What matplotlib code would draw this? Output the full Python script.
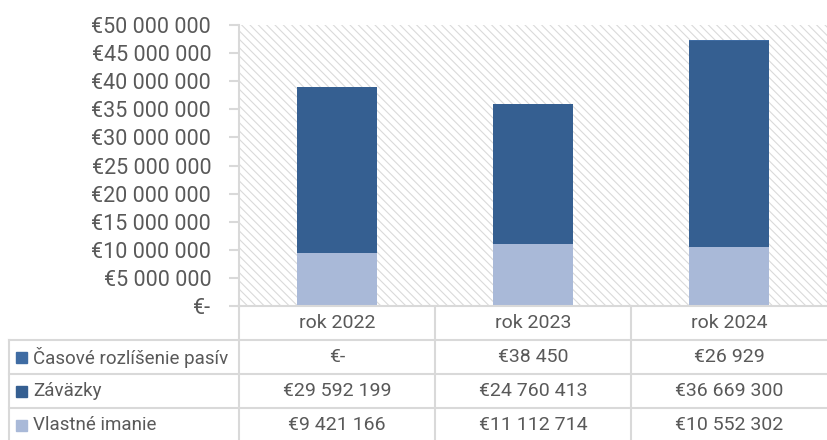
import matplotlib
matplotlib.use('Agg')
import matplotlib.pyplot as plt
from matplotlib.patches import Rectangle
from matplotlib.lines import Line2D

# data
years = ['rok 2022', 'rok 2023', 'rok 2024']
vlastne_imanie = [9421166, 11112714, 10552302]
zavazky = [29592199, 24760413, 36669300]
casove_rozlisenie = [0, 38450, 26929]

series_names = ['Časové rozlíšenie pasív', 'Záväzky', 'Vlastné imanie']
series_colors = ['#3F6CA3', '#355F91', '#A9B9D8']

yticks = list(range(0, 50000001, 5000000))

plt.rcParams['font.family'] = ['Roboto', 'DejaVu Sans']
plt.rcParams['hatch.linewidth'] = 0.8
txt_color = '#595959'
grid_color = '#D9D9D9'


def euro(v):
    if v == 0:
        return '€-'
    return '€' + f'{v:,}'.replace(',', ' ')


W, H = 827, 440
fig = plt.figure(figsize=(W / 100, H / 100), dpi=100)

# plot area in pixel coords
x0, x1 = 239, 827
y_top, y_bot = 25, 306
ax = fig.add_axes([x0 / W, 1 - y_bot / H, (x1 - x0) / W, (y_bot - y_top) / H])
ax.set_xlim(-0.5, 2.5)
ax.set_ylim(0, 50000000)

# hatched background
bg = Rectangle((0, 0), 1, 1, transform=ax.transAxes, facecolor='white',
               edgecolor='#DADADA', hatch='\\\\\\\\', linewidth=0, zorder=0)
ax.add_patch(bg)

xs = range(len(years))
bw = 0.41
ax.bar(xs, vlastne_imanie, bw, color=series_colors[2], zorder=2)
ax.bar(xs, zavazky, bw, bottom=vlastne_imanie, color=series_colors[1], zorder=2)
bott = [a + b for a, b in zip(vlastne_imanie, zavazky)]
ax.bar(xs, casove_rozlisenie, bw, bottom=bott, color=series_colors[0], zorder=2)

for s in ['top', 'right', 'bottom']:
    ax.spines[s].set_visible(False)
ax.spines['left'].set_color(grid_color)
ax.spines['left'].set_linewidth(1.5)
ax.set_xticks([])
ax.set_yticks(yticks)
ax.set_yticklabels([euro(v) for v in yticks], color=txt_color, fontsize=15.5)
ax.tick_params(axis='y', length=7, width=1.5, color=grid_color, pad=13)

# data table (pixel coords -> figure fraction)
def fx(px):
    return px / W


def fy(py):
    return 1 - py / H


def hline(xa, xb, y):
    fig.add_artist(Line2D([fx(xa), fx(xb)], [fy(y), fy(y)], color=grid_color, lw=1.5))


def vline(x, ya, yb):
    fig.add_artist(Line2D([fx(x), fx(x)], [fy(ya), fy(yb)], color=grid_color, lw=1.5))


col_w = (x1 - x0) / len(years)
row_tops = [340, 374, 408]
hline(x0, x1, y_bot)
for r in row_tops:
    hline(9, x1, r)
vline(x0, y_bot, H)
for i in range(1, len(years)):
    vline(x0 + i * col_w, y_bot, H)
vline(9, row_tops[0], H)

for i, yr in enumerate(years):
    fig.text(fx(x0 + (i + 0.5) * col_w), fy(y_bot + 17), yr, ha='center', va='center',
             color=txt_color, fontsize=14)

rows = [casove_rozlisenie, zavazky, vlastne_imanie]
for r, (name, col, vals) in enumerate(zip(series_names, series_colors, rows)):
    yc = row_tops[r] + 17
    fig.add_artist(Rectangle((fx(16), fy(yc + 5.5)), 11 / W, 11 / H, color=col))
    fig.text(fx(33), fy(yc), name, ha='left', va='center', color=txt_color, fontsize=13.5)
    for i, v in enumerate(vals):
        fig.text(fx(x0 + (i + 0.5) * col_w), fy(yc), euro(v), ha='center', va='center',
                 color=txt_color, fontsize=14)

fig.savefig('out.png', dpi=100)
